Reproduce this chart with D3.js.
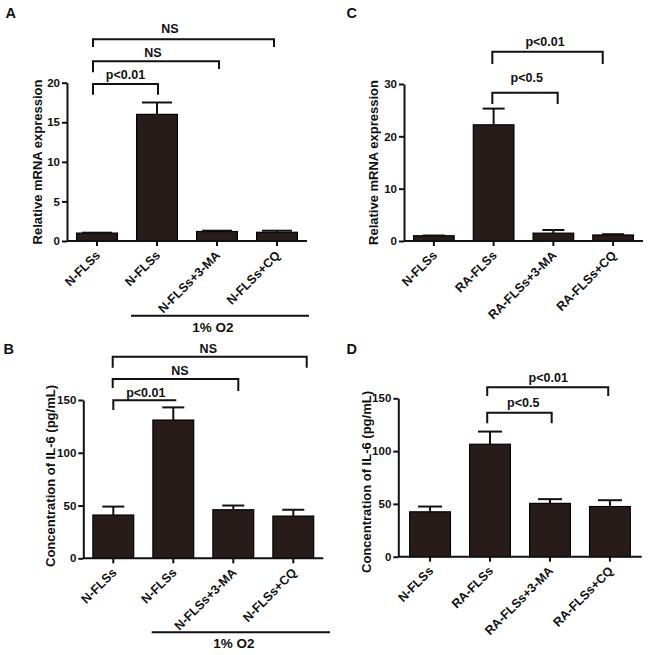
<!DOCTYPE html>
<html>
<head>
<meta charset="utf-8">
<script src="https://cdn.jsdelivr.net/npm/d3@7"></script>
<style>
  body { margin: 0; background: #fff; }
  svg { display: block; }
  text { font-family: "Liberation Sans", Arial, sans-serif; font-weight: bold; fill: #111; }
</style>
</head>
<body>
<svg id="chart" width="650" height="655"></svg>
<script>
// ---------- data ----------
const labelsA = ["N-FLSs", "N-FLSs", "N-FLSs+3-MA", "N-FLSs+CQ"];
const valuesA = [1.0, 16.0, 1.2, 1.1];
const errorsA = [0.05, 1.5, 0.1, 0.2];
const ticksA = [0, 5, 10, 15, 20];

const labelsB = ["N-FLSs", "N-FLSs", "N-FLSs+3-MA", "N-FLSs+CQ"];
const valuesB = [41, 131, 46, 40];
const errorsB = [8, 12, 4, 6];
const ticksB = [0, 50, 100, 150];

const labelsC = ["N-FLSs", "RA-FLSs", "RA-FLSs+3-MA", "RA-FLSs+CQ"];
const valuesC = [1.0, 22.2, 1.5, 1.15];
const errorsC = [0.05, 3.1, 0.6, 0.15];
const ticksC = [0, 10, 20, 30];

const labelsD = ["N-FLSs", "RA-FLSs", "RA-FLSs+3-MA", "RA-FLSs+CQ"];
const valuesD = [42.5, 106.5, 50.5, 47.5];
const errorsD = [5, 12, 4, 6];
const ticksD = [0, 50, 100, 150];

const compA = [[0, 1, "p<0.01"], [0, 2, "NS"], [0, 3, "NS"]];
const compB = [[0, 1, "p<0.01"], [0, 2, "NS"], [0, 3, "NS"]];
const compC = [[1, 2, "p<0.5"], [1, 3, "p<0.01"]];
const compD = [[1, 2, "p<0.5"], [1, 3, "p<0.01"]];

const groupLabel = "1% O2";

// ---------- layout ----------
const panels = [
  { letter: "A", labels: labelsA, values: valuesA, errors: errorsA, ticks: ticksA,
    title: "Relative mRNA expression", comps: compA,
    x0: 67, x1: 307, y0: 241, yTop: 82.7, po: 0.16, cap: 15,
    letterPos: [5.5, 17.5], titlePos: [41.5, 162],
    br: [ {y: 84, dx1: -4, dx2: 1, l1: 94.7, l2: 94.7, ty: 79, tdx: 0},
          {y: 61.3, dx1: -4, dx2: 2, l1: 72.3, l2: 69, ty: 56.5, tdx: -3},
          {y: 39.3, dx1: -4, dx2: -3, l1: 47, l2: 47, ty: 33, tdx: -13.5} ],
    group: {x1: 131, x2: 309, y: 315.7, tx: 213, ty: 332} },
  { letter: "B", labels: labelsB, values: valuesB, errors: errorsB, ticks: ticksB,
    title: "Concentration of IL-6 (pg/mL)", comps: compB,
    x0: 83.3, x1: 323.3, y0: 558.3, yTop: 400, po: 0.16, cap: 11,
    letterPos: [3.5, 353.5], titlePos: [54.5, 476],
    br: [ {y: 400.3, dx1: 0, dx2: 3, l1: 410, l2: 400.3, ty: 396.5, tdx: 1},
          {y: 379, dx1: -0.6, dx2: 5, l1: 388, l2: 391, ty: 375, tdx: 4.5},
          {y: 356.7, dx1: -0.6, dx2: 13.4, l1: 367.7, l2: 367.7, ty: 353.3, tdx: -1.4} ],
    group: {x1: 151.7, x2: 330, y: 632.3, tx: 234, ty: 648.3} },
  { letter: "C", labels: labelsC, values: valuesC, errors: errorsC, ticks: ticksC,
    title: "Relative mRNA expression", comps: compC,
    x0: 404, x1: 643, y0: 241, yTop: 84, po: 0.16, cap: 11,
    letterPos: [346.5, 18], titlePos: [378, 162.5],
    br: [ {y: 92.7, dx1: -1.3, dx2: 4.3, l1: 104, l2: 104, ty: 81.7, tdx: 1.7},
          {y: 51.7, dx1: -1.3, dx2: -10.4, l1: 64, l2: 64, ty: 45.7, tdx: -2.5} ],
    group: null },
  { letter: "D", labels: labelsD, values: valuesD, errors: errorsD, ticks: ticksD,
    title: "Concentration of IL-6 (pg/mL)", comps: compD,
    x0: 398.3, x1: 641.7, y0: 556.7, yTop: 398.3, po: 0.19, cap: 12,
    letterPos: [346.5, 354], titlePos: [371, 482],
    br: [ {y: 412.7, dx1: -2.8, dx2: 1.7, l1: 423.3, l2: 423.3, ty: 407.3, tdx: 3.8},
          {y: 387.3, dx1: -2.8, dx2: -1.7, l1: 396, l2: 396, ty: 381.7, tdx: 0.5} ],
    group: null }
];

const barFill = "#271c19";
const svg = d3.select("#chart");

panels.forEach(p => {
  const g = svg.append("g");
  const idx = p.values.map((_, i) => i);
  const x = d3.scaleBand().domain(idx).range([p.x0, p.x1])
    .paddingInner(0.32).paddingOuter(p.po);
  const y = d3.scaleLinear().domain([0, d3.max(p.ticks)]).range([p.y0, p.yTop]);
  const cx = i => x(i) + x.bandwidth() / 2;

  // bars
  g.selectAll("rect.bar").data(p.values).join("rect")
    .attr("class", "bar")
    .attr("x", (d, i) => x(i))
    .attr("width", x.bandwidth())
    .attr("y", d => y(d))
    .attr("height", d => y(0) - y(d))
    .attr("fill", barFill)
    .attr("stroke", "#000")
    .attr("stroke-width", 1.2);

  // error bars (upper)
  const eb = g.selectAll("g.err").data(p.values).join("g").attr("class", "err");
  eb.append("line")
    .attr("x1", (d, i) => cx(i)).attr("x2", (d, i) => cx(i))
    .attr("y1", d => y(d)).attr("y2", (d, i) => y(d + p.errors[i]))
    .attr("stroke", "#111").attr("stroke-width", 2);
  eb.append("line")
    .attr("x1", (d, i) => cx(i) - p.cap).attr("x2", (d, i) => cx(i) + p.cap)
    .attr("y1", (d, i) => y(d + p.errors[i])).attr("y2", (d, i) => y(d + p.errors[i]))
    .attr("stroke", "#111").attr("stroke-width", 2);

  // y axis
  const ya = g.append("g").attr("transform", `translate(${p.x0},0)`)
    .call(d3.axisLeft(y).tickValues(p.ticks).tickSize(5).tickSizeOuter(0).tickPadding(2));
  ya.select(".domain").attr("stroke", "#111").attr("stroke-width", 2);
  ya.selectAll(".tick line").attr("stroke", "#111").attr("stroke-width", 2);
  ya.selectAll(".tick text").style("font-size", "11.5px")
    .style("font-family", "'Liberation Sans', Arial, sans-serif").style("font-weight", "bold").attr("fill", "#111");

  // x axis
  const xa = g.append("g").attr("transform", `translate(0,${p.y0})`)
    .call(d3.axisBottom(x).tickSize(5).tickSizeOuter(0).tickFormat(i => p.labels[i]));
  xa.select(".domain").attr("stroke", "#111").attr("stroke-width", 2)
    .attr("d", `M${p.x0},0H${p.x1}`);
  xa.selectAll(".tick line").attr("stroke", "#111").attr("stroke-width", 2);
  xa.selectAll(".tick text")
    .style("font-size", "12.5px")
    .style("font-family", "'Liberation Sans', Arial, sans-serif").style("font-weight", "bold")
    .attr("fill", "#111")
    .attr("text-anchor", "end")
    .attr("dy", null)
    .attr("y", null)
    .attr("transform", "translate(4,15) rotate(-45)");

  // y title
  g.append("text")
    .attr("transform", `translate(${p.titlePos[0]},${p.titlePos[1]}) rotate(-90)`)
    .attr("text-anchor", "middle")
    .style("font-size", "13px")
    .text(p.title);

  // panel letter
  g.append("text")
    .attr("x", p.letterPos[0]).attr("y", p.letterPos[1])
    .style("font-size", "14.5px")
    .text(p.letter);

  // significance brackets
  p.comps.forEach((c, k) => {
    const b = p.br[k];
    const xa1 = cx(c[0]) + b.dx1, xa2 = cx(c[1]) + b.dx2;
    g.append("path")
      .attr("d", `M${xa1},${b.l1}V${b.y}H${xa2}V${b.l2}`)
      .attr("fill", "none").attr("stroke", "#111").attr("stroke-width", 2);
    g.append("text")
      .attr("x", (xa1 + xa2) / 2 + b.tdx).attr("y", b.ty)
      .attr("text-anchor", "middle")
      .style("font-size", "12.5px")
      .text(c[2]);
  });

  // group line
  if (p.group) {
    g.append("line")
      .attr("x1", p.group.x1).attr("x2", p.group.x2)
      .attr("y1", p.group.y).attr("y2", p.group.y)
      .attr("stroke", "#111").attr("stroke-width", 2);
    g.append("text")
      .attr("x", p.group.tx).attr("y", p.group.ty)
      .attr("text-anchor", "middle")
      .style("font-size", "13.5px")
      .text(groupLabel);
  }
});
</script>
</body>
</html>
